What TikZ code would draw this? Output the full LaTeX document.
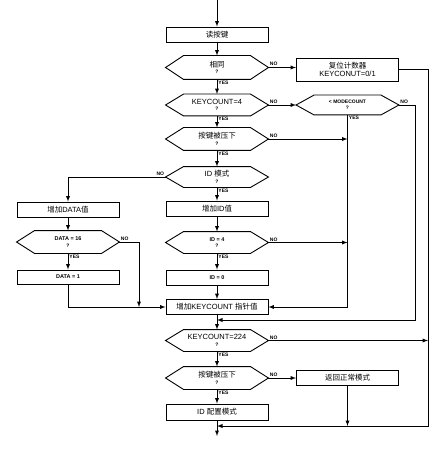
\documentclass[tikz,border=0pt]{standalone}
\usepackage{fontspec}
\setmainfont{Liberation Sans}
\newfontfamily\cjk{Noto Sans CJK SC}
\usetikzlibrary{positioning}

\newcommand{\qm}{\\[-1.5pt]{\fontsize{5}{5}\selectfont\bfseries ?}}
\newcommand{\smalltxt}{\fontsize{5.5}{6}\selectfont\bfseries}

\begin{document}
\begin{tikzpicture}[x=1pt, y=-1pt, >=latex, line width=0.9pt,
    box/.style={draw, minimum width=102pt, minimum height=15pt, inner sep=0pt, align=center, font=\fontsize{7.5}{8.5}\selectfont},
    hexnode/.style={minimum width=102pt, inner sep=0pt, align=center, font=\fontsize{7.5}{8}\selectfont},
    yeslabel/.style={anchor=north west, inner sep=1pt, font=\fontsize{5}{5}\selectfont\bfseries},
    nolabel/.style={anchor=south west, inner sep=1pt, font=\fontsize{5}{5}\selectfont\bfseries}]
    \useasboundingbox (0,0) rectangle (439,449);

    % Main column
    \coordinate (top) at (217,0);
    \node[box] (read) at (217,34.5) {\cjk 读按键};
    \node[hexnode, minimum height=23pt] (same) at (217,67.5) {{\cjk 相同}\qm};
    \node[hexnode, minimum height=21pt] (kc4) at (217,105) {KEYCOUNT=4\qm};
    \node[hexnode, minimum height=22pt] (press1) at (217,139) {{\cjk 按键被压下}\qm};
    \node[hexnode, minimum height=20pt] (idmode) at (217,177) {ID {\cjk 模式}\qm};
    \node[box] (incid) at (217,208.5) {{\cjk 增加}ID{\cjk 值}};
    \node[hexnode, minimum height=21pt] (id4) at (217,242.5) {{\smalltxt ID = 4}\qm};
    \node[box] (id0) at (217,277.5) {\smalltxt ID = 0};
    \node[box] (inckc) at (217,307) {{\cjk 增加}KEYCOUNT {\cjk 指针值}};
    \node[hexnode, minimum height=21pt] (kc224) at (217,340.5) {KEYCOUNT=224\qm};
    \node[hexnode, minimum height=22pt] (press2) at (217,378) {{\cjk 按键被压下}\qm};
    \node[box, minimum height=16pt] (idcfg) at (217,412) {ID {\cjk 配置模式}};
    \coordinate (merge) at (217,426);
    \coordinate (bottom) at (217,436);
    \coordinate (kcjoin) at (217,320);

    % Right column
    \node[box, minimum height=23pt] (reset) at (347.5,69.5) {{\cjk 复位计数器}\\KEYCONUT=0/1};
    \node[hexnode, minimum height=19pt] (mode) at (347.5,105) {{\fontsize{5}{6}\selectfont\bfseries < MODECOUNT}\qm};
    \node[box] (ret) at (347.5,378) {\cjk 返回正常模式};
    \coordinate (rgt) at (428,0);
    \coordinate (mrgt) at (415,0);

    % Left column
    \node[box] (incdata) at (68,209.5) {{\cjk 增加}DATA{\cjk 值}};
    \node[hexnode, minimum height=22pt] (data16) at (68,242) {{\smalltxt DATA = 16}\qm};
    \node[box, minimum height=14pt] (data1) at (68,277) {\smalltxt DATA = 1};
    \coordinate (dno) at (139,0);

    % Hexagon outlines
    \foreach \h in {same,kc4,press1,idmode,id4,kc224,press2,mode,data16}
        \draw (\h.west) -- ([xshift=18pt]\h.north west) -- ([xshift=-18pt]\h.north east)
            -- (\h.east) -- ([xshift=-18pt]\h.south east) -- ([xshift=18pt]\h.south west) -- cycle;

    % Main flow
    \draw[->] (top) -- (read);
    \draw[->] (read) -- (same);
    \draw[->] (same) -- (kc4);
    \draw[->] (kc4) -- (press1);
    \draw[->] (press1) -- (idmode);
    \draw[->] (idmode) -- (incid);
    \draw[->] (incid) -- (id4);
    \draw[->] (id4) -- (id0);
    \draw[->] (id0) -- (inckc);
    \draw[->] (inckc) -- (kc224);
    \draw[->] (kc224) -- (press2);
    \draw[->] (press2) -- (idcfg);
    \draw[->] (idcfg) -- (bottom);

    % NO branches
    \draw[->] (same.east) -- (same.east -| reset.west);
    \draw[->] (reset.east) -| (rgt |- merge) -- (merge);
    \draw[->] (kc4.east) -- (mode.west);
    \draw[->] (mode.east) -| (mrgt |- kcjoin) -- (kcjoin);
    \draw[->] (mode.south) |- (inckc.east);
    \draw[->] (press1.east) -- (press1.east -| mode.south);
    \draw[->] (id4.east) -- (id4.east -| mode.south);
    \draw[->] (idmode.west) -| (incdata.north);
    \draw[->] (kc224.east) -- (rgt |- kc224.east);
    \draw[->] (press2.east) -- (ret.west);
    \draw[->] (ret.south) -- (ret.south |- merge);

    % DATA branch
    \draw[->] (incdata) -- (data16);
    \draw[->] (data16) -- (data1);
    \draw[->] (data16.east) -| (dno |- inckc.west);
    \draw[->] (data1.south) |- (inckc.west);

    % YES / NO labels
    \foreach \h in {same,kc4,press1,idmode,id4,kc224,press2,mode,data16}
        \node[yeslabel] at (\h.south) {YES};
    \foreach \h in {same,kc4,press1,id4,kc224,press2,mode,data16}
        \node[nolabel] at (\h.east) {NO};
    \node[nolabel, anchor=south east] at (idmode.west) {NO};
\end{tikzpicture}
\end{document}
